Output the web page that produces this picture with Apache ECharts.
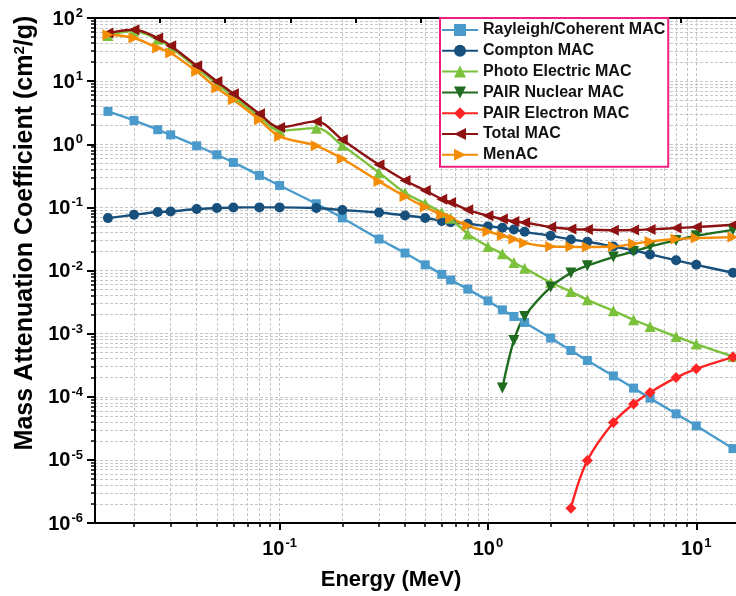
<!DOCTYPE html>
<html>
<head>
<meta charset="utf-8">
<script src="https://cdn.jsdelivr.net/npm/echarts@6/dist/echarts.min.js"></script>
<style>
  html, body { margin: 0; padding: 0; background: #ffffff; }
  #chart { width: 736px; height: 596px; }
</style>
</head>
<body>
<div id="chart"></div>
<script>
// Photon energies (MeV)
const energy = [0.015, 0.02, 0.026, 0.03, 0.04, 0.05, 0.06, 0.08, 0.1, 0.15, 0.2, 0.3, 0.4, 0.5, 0.6, 0.662, 0.8, 1, 1.173, 1.332, 1.5, 2, 2.5, 3, 4, 5, 6, 8, 10, 15];

// Partial mass attenuation coefficients (cm2/g); null = not defined below threshold
const rayleigh = [3.31, 2.38, 1.70, 1.41, 0.946, 0.682, 0.515, 0.321, 0.222, 0.114, 0.068, 0.0315, 0.0189, 0.0123, 0.0087, 0.0071, 0.00507, 0.00331, 0.00238, 0.00187, 0.0015, 0.00085, 0.00054, 0.000375, 0.000214, 0.000137, 0.000095, 0.0000536, 0.0000346, 0.0000151];
const compton = [0.0676, 0.0763, 0.0843, 0.0862, 0.094, 0.0975, 0.0996, 0.1, 0.1, 0.0975, 0.091, 0.083, 0.0745, 0.068, 0.061, 0.058, 0.055, 0.05, 0.0475, 0.0445, 0.041, 0.0355, 0.031, 0.0285, 0.024, 0.021, 0.018, 0.0145, 0.0123, 0.0092];
const photo = [53, 62, 46, 34.5, 16.3, 9.0, 5.65, 2.75, 1.65, 1.8, 0.96, 0.355, 0.17, 0.115, 0.083, 0.067, 0.038, 0.024, 0.0184, 0.0134, 0.0109, 0.00645, 0.00465, 0.00343, 0.0023, 0.00166, 0.0013, 0.0009, 0.000682, 0.000434];
const pairNuclear = [null, null, null, null, null, null, null, null, null, null, null, null, null, null, null, null, null, null, 0.000137, 0.00078, 0.00187, 0.00546, 0.0091, 0.0119, 0.0163, 0.020, 0.024, 0.030, 0.0355, 0.044];
const pairElectron = [null, null, null, null, null, null, null, null, null, null, null, null, null, null, null, null, null, null, null, null, null, null, 0.00000172, 0.00000975, 0.000039, 0.000077, 0.000117, 0.000201, 0.000277, 0.000425];
const total = [57.8, 65.3, 48.2, 36.4, 17.5, 9.89, 6.31, 3.04, 1.85, 2.30, 1.18, 0.473, 0.267, 0.185, 0.135, 0.12, 0.0916, 0.0736, 0.0653, 0.0598, 0.0577, 0.0488, 0.0455, 0.0445, 0.0435, 0.0438, 0.0448, 0.047, 0.0488, 0.053];
const menac = [54.3, 48.2, 33.5, 27.9, 14.2, 7.78, 5.07, 2.44, 1.33, 0.946, 0.59, 0.258, 0.149, 0.101, 0.0764, 0.0676, 0.051, 0.0415, 0.0355, 0.0315, 0.0272, 0.024, 0.0237, 0.0236, 0.024, 0.0265, 0.0288, 0.0315, 0.0326, 0.0338];

// Axis ranges and tick positions
const xRange = [0.013, 20];
const yRange = [1e-6, 100];
const xMajorTicks = [0.1, 1, 10];
const yMajorTicks = [1e-6, 1e-5, 1e-4, 1e-3, 1e-2, 1e-1, 1, 10, 100];

function minorTicksBetween(lo, hi) {
  const out = [];
  for (let d = Math.floor(Math.log10(lo)); d <= Math.ceil(Math.log10(hi)); d++) {
    for (let k = 2; k <= 9; k++) {
      const v = Number((k * Math.pow(10, d)).toPrecision(3));
      if (v > lo && v < hi) out.push(v);
    }
  }
  return out;
}
const xMinorTicks = minorTicksBetween(xRange[0], xRange[1]);
const yMinorTicks = minorTicksBetween(yRange[0], yRange[1]);

const FONT = '"Liberation Sans", Arial, Helvetica, sans-serif';
const GRID_LINE = { color: '#c6c6c6', width: 1, type: [3, 2] };

function powerLabel(v) {
  const e = Math.round(Math.log10(v));
  return '{b|10}{s|' + e + '}';
}
const powerRich = {
  b: { fontFamily: FONT, fontWeight: 'bold', fontSize: 20, color: '#000', verticalAlign: 'bottom', lineHeight: 22 },
  s: { fontFamily: FONT, fontWeight: 'bold', fontSize: 13, color: '#000', verticalAlign: 'top', lineHeight: 13, padding: [0, 0, 10, 1] }
};

function pairs(values) {
  const out = [];
  energy.forEach((e, i) => { if (values[i] != null) out.push([e, values[i]]); });
  return out;
}

function lineSeries(name, values, color, symbol, size, rotate) {
  return {
    type: 'line',
    name: name,
    data: pairs(values),
    xAxisIndex: 0,
    yAxisIndex: 0,
    smooth: 0.35,
    symbol: symbol,
    symbolSize: size,
    symbolRotate: rotate || 0,
    showAllSymbol: true,
    lineStyle: { color: color, width: 2.4 },
    itemStyle: { color: color },
    emphasis: { disabled: true }
  };
}

const chart = echarts.init(document.getElementById('chart'), null, { renderer: 'canvas' });

chart.setOption({
  animation: false,
  backgroundColor: '#ffffff',
  // the frame runs past the right edge of the canvas
  grid: { left: 95, top: 18, width: 664, height: 505, containLabel: false, outerBoundsMode: 'none' },
  xAxis: [
    {
      type: 'log', logBase: 10, min: xRange[0], max: xRange[1], position: 'bottom',
      axisLine: { show: true, onZero: false, lineStyle: { color: '#000', width: 2 } },
      axisTick: { show: true, inside: false, length: 7, customValues: xMajorTicks, lineStyle: { color: '#000', width: 2 } },
      axisLabel: { show: true, customValues: xMajorTicks, margin: 14, formatter: powerLabel, rich: powerRich },
      splitLine: { show: true, lineStyle: GRID_LINE },
      minorTick: { show: false }, minorSplitLine: { show: false }
    },
    {
      type: 'log', logBase: 10, min: xRange[0], max: xRange[1], position: 'bottom',
      axisLine: { show: false, onZero: false },
      axisTick: { show: true, inside: false, length: 4, customValues: xMinorTicks, lineStyle: { color: '#000', width: 1.5 } },
      axisLabel: { show: false },
      splitLine: { show: true, lineStyle: GRID_LINE }
    },
    {
      type: 'value', min: 0, max: 10.2, interval: 1, position: 'top',
      axisLine: { show: true, onZero: false, lineStyle: { color: '#000', width: 2 } },
      axisTick: { show: true, inside: true, length: 5, lineStyle: { color: '#000', width: 2 } },
      axisLabel: { show: false },
      splitLine: { show: false }
    }
  ],
  yAxis: [
    {
      type: 'log', logBase: 10, min: yRange[0], max: yRange[1], position: 'left',
      axisLine: { show: true, onZero: false, lineStyle: { color: '#000', width: 2 } },
      axisTick: { show: true, inside: false, length: 8, customValues: yMajorTicks, lineStyle: { color: '#000', width: 2 } },
      axisLabel: { show: true, customValues: yMajorTicks, margin: 12, formatter: powerLabel, rich: powerRich },
      splitLine: { show: true, lineStyle: GRID_LINE },
      minorTick: { show: false }, minorSplitLine: { show: false }
    },
    {
      type: 'log', logBase: 10, min: yRange[0], max: yRange[1], position: 'left',
      axisLine: { show: false, onZero: false },
      axisTick: { show: true, inside: false, length: 4, customValues: yMinorTicks, lineStyle: { color: '#000', width: 1.5 } },
      axisLabel: { show: false },
      splitLine: { show: true, lineStyle: GRID_LINE }
    }
  ],
  legend: {
    orient: 'vertical', left: 440, top: 18,
    itemWidth: 36, itemHeight: 15, itemGap: 4.8,
    padding: [4, 3, 4, 1],
    backgroundColor: '#ffffff', borderColor: '#ee1f7f', borderWidth: 2,
    textStyle: { fontFamily: FONT, fontWeight: 'bold', fontSize: 16, color: '#111' },
    selectedMode: false, z: 10
  },
  graphic: [
    {
      type: 'text', x: 25, y: 233, rotation: Math.PI / 2,
      style: {
        text: 'Mass Attenuation Coefficient (cm{s|2}/g)',
        fontFamily: FONT, fontWeight: 'bold', fontSize: 25, fill: '#000',
        align: 'center', verticalAlign: 'middle',
        rich: { s: { fontFamily: FONT, fontWeight: 'bold', fontSize: 15, fill: '#000', verticalAlign: 'top', padding: [0, 0, 11, 0] } }
      }
    },
    {
      type: 'text', x: 391, y: 580,
      style: {
        text: 'Energy (MeV)', fontFamily: FONT, fontWeight: 'bold', fontSize: 22, fill: '#000',
        align: 'center', verticalAlign: 'middle'
      }
    }
  ],
  series: [
    lineSeries('Rayleigh/Coherent MAC', rayleigh, '#4a9bcc', 'rect', 9),
    lineSeries('Compton MAC', compton, '#17507c', 'circle', 10),
    lineSeries('Photo Electric MAC', photo, '#7cc13b', 'triangle', 11),
    lineSeries('PAIR Nuclear MAC', pairNuclear, '#1f6b1f', 'triangle', 11, 180),
    lineSeries('PAIR Electron MAC', pairElectron, '#ff2424', 'diamond', 11),
    lineSeries('Total MAC', total, '#8f1212', 'triangle', 11, 90),
    lineSeries('MenAC', menac, '#f48c06', 'triangle', 11, -90)
  ]
});
</script>
</body>
</html>
